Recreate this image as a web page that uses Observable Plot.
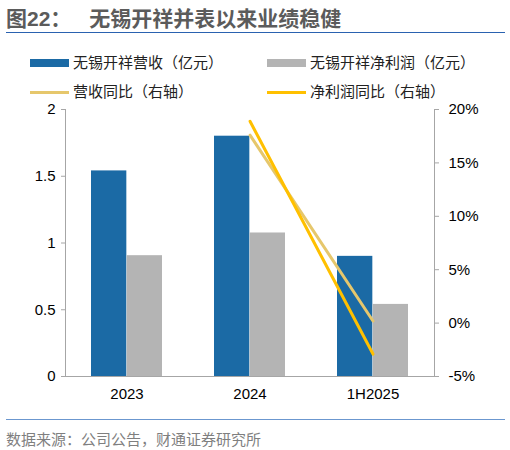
<!DOCTYPE html>
<html>
<head>
<meta charset="utf-8">
<script src="https://cdn.jsdelivr.net/npm/d3@7"></script>
<script src="https://cdn.jsdelivr.net/npm/@observablehq/plot@0.6"></script>
<style>
  body { margin: 0; width: 510px; height: 450px; position: relative; overflow: hidden; background: #fff;
         font-family: "Liberation Sans", "Noto Sans CJK SC", sans-serif; }
  .abs { position: absolute; white-space: nowrap; }
  #title { left: 6px; top: 2px; font-size: 21px; font-weight: bold; color: #5b5b5b; }
  #title .sp { display: inline-block; width: 18px; }
  .rule { position: absolute; left: 6px; width: 499px; height: 1px; }
  .leg { font-size: 15px; color: #222; line-height: 18px; }
  .sw { position: absolute; width: 39px; }
  #foot { left: 6px; top: 428px; font-size: 15px; color: #7f7f7f; }
  #chart { position: absolute; left: 0; top: 98px; }
</style>
</head>
<body>
<div id="title" class="abs">图22：<span class="sp"></span>无锡开祥并表以来业绩稳健</div>
<div class="rule" style="top:32px;background:#2a62b0"></div>
<div id="legend"></div>
<div id="chart"></div>
<div class="rule" style="top:419px;background:#6b97cf"></div>
<div id="foot" class="abs">数据来源：公司公告，财通证券研究所</div>
<script>
const years = ["2023", "2024", "1H2025"];
const revenue = [1.54, 1.80, 0.90];      // 亿元
const profit = [0.905, 1.075, 0.54];     // 亿元
const revenueYoy = [null, 17.6, 0.2];    // %
const profitYoy = [null, 18.9, -2.9];    // %
const leftTicks = [0, 0.5, 1, 1.5, 2];
const rightTicks = [-5, 0, 5, 10, 15, 20];

const colors = {revenue: "#1b6aa5", profit: "#b4b4b4", revenueYoy: "#e6c76c", profitYoy: "#ffc000"};
const legendItems = [
  {label: "无锡开祥营收（亿元）", color: colors.revenue, kind: "bar", x: 30, y: 54},
  {label: "无锡开祥净利润（亿元）", color: colors.profit, kind: "bar", x: 267, y: 54},
  {label: "营收同比（右轴）", color: colors.revenueYoy, kind: "line", x: 30, y: 83},
  {label: "净利润同比（右轴）", color: colors.profitYoy, kind: "line", x: 267, y: 83}
];

const legend = document.getElementById("legend");
for (const d of legendItems) {
  const sw = document.createElement("div");
  sw.className = "sw";
  const h = d.kind === "bar" ? 8 : 3;
  sw.style.cssText = `left:${d.x}px;top:${d.y + 9 - h / 2}px;height:${h}px;background:${d.color}`;
  legend.appendChild(sw);
  const t = document.createElement("div");
  t.className = "abs leg";
  t.style.cssText = `left:${d.x + 43}px;top:${d.y}px`;
  t.textContent = d.label;
  legend.appendChild(t);
}

// right axis (%) mapped onto left axis domain [0, 2]
const pct = d3.scaleLinear().domain([-5, 20]).range([0, 2]);

const bars = years.map((year, i) => ({year, revenue: revenue[i], profit: profit[i]}));
const yoy = (arr) => years.map((year, i) => ({year, v: arr[i]})).filter((d) => d.v != null);

const width = 510, marginLeft = 65, marginRight = 76;
const paddingInner = 0.42, paddingOuter = 0.21;
const step = (width - marginLeft - marginRight) / (years.length - paddingInner + 2 * paddingOuter);
const half = step * (1 - paddingInner) / 2;

const chart = Plot.plot({
  width,
  height: 310,
  marginLeft,
  marginRight,
  marginTop: 11,
  marginBottom: 32,
  style: {fontFamily: "Liberation Sans, Arial, sans-serif", fontSize: "15px", color: "#000"},
  x: {type: "band", domain: years, paddingInner, paddingOuter, label: null},
  y: {domain: [0, 2], label: null},
  marks: [
    Plot.barY(bars, {x: "year", y: "revenue", fill: colors.revenue, insetRight: half}),
    Plot.barY(bars, {x: "year", y: "profit", fill: colors.profit, insetLeft: half}),
    Plot.line(yoy(revenueYoy), {x: "year", y: (d) => pct(d.v), stroke: colors.revenueYoy, strokeWidth: 3}),
    Plot.line(yoy(profitYoy), {x: "year", y: (d) => pct(d.v), stroke: colors.profitYoy, strokeWidth: 3}),
    Plot.frame({anchor: "left", stroke: "#a6a6a6"}),
    Plot.frame({anchor: "right", stroke: "#a6a6a6"}),
    Plot.ruleY([0], {stroke: "#a6a6a6"}),
    Plot.axisY(leftTicks, {anchor: "left", tickSize: 4, tickPadding: 6, stroke: "#a6a6a6", fill: "#000",
      fontSize: 15, tickFormat: (d) => String(d), label: null}),
    Plot.axisY(rightTicks, {anchor: "right", y: (d) => pct(d), tickSize: 4, tickPadding: 10, stroke: "#a6a6a6",
      fill: "#000", fontSize: 15, tickFormat: (d) => d + "%", label: null}),
    Plot.axisX({tickSize: 0, tickPadding: 12, fill: "#000", fontSize: 15, label: null})
  ]
});
document.getElementById("chart").appendChild(chart);
</script>
</body>
</html>
